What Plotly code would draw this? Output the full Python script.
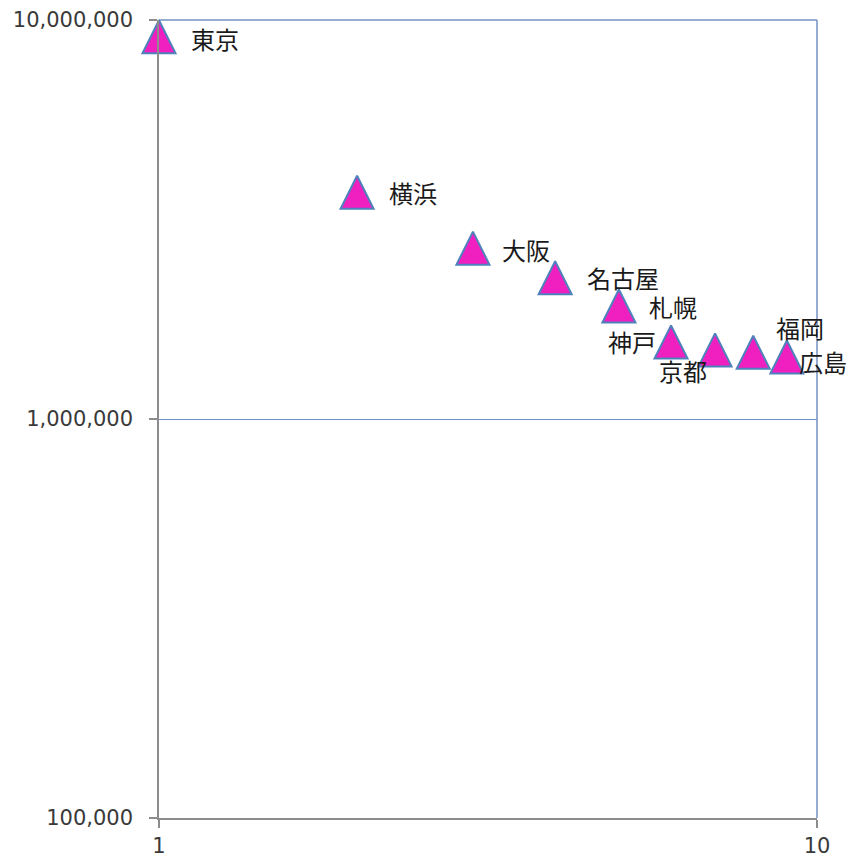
import numpy as np
import plotly.graph_objects as go

# City rank vs. population (log-log)
cities = ["東京", "横浜", "大阪", "名古屋", "札幌", "神戸", "京都", "福岡", "広島"]
ranks = [1, 2, 3, 4, 5, 6, 7, 8, 9]
population = [9080000, 3700000, 2680000, 2260000, 1920000, 1560000, 1490000, 1470000, 1430000]

y_tick_values = [100000, 1000000, 10000000]
y_tick_labels = ["100,000", "1,000,000", "10,000,000"]
x_tick_values = [1, 10]
x_tick_labels = ["1", "10"]

# label placement around each marker: (xanchor, xshift px, yshift px)
label_place = [
    ("left", 31, -2),
    ("left", 31, 0),
    ("left", 28, -1),
    ("left", 31, 0),
    ("left", 29, -1),
    ("right", -14, 0),
    ("center", -32, -21),
    ("center", 47, 25),
    ("left", 11, -4),
]

GRID = "#7391C4"
AXIS = "#8C8C8C"
MARKER = 33             # triangle width/height in px
PLOT_H = 865 - 20 - 47  # plot-area height in px
# arrow-up markers hang from their tip; lift them by half a marker
# so each triangle is centred on its value
lift = (MARKER / 2) / (PLOT_H / 2)

fig = go.Figure()

fig.add_trace(go.Scatter(
    x=ranks, y=population, text=cities, mode="markers",
    marker=dict(size=MARKER, opacity=0),
    hovertemplate="%{text}<br>%{x}位: %{y:,}<extra></extra>",
    showlegend=False,
))

fig.add_trace(go.Scatter(
    x=ranks, y=population, mode="markers", yaxis="y2",
    marker=dict(symbol="arrow-up", size=MARKER, color="#F01FBF",
                line=dict(color="#4F81BD", width=2)),
    cliponaxis=False, hoverinfo="skip", showlegend=False,
))

for name, r, p, (anchor, dx, dy) in zip(cities, ranks, population, label_place):
    fig.add_annotation(
        x=np.log10(r), y=np.log10(p), xref="x", yref="y",
        text=name, showarrow=False, xanchor=anchor, yanchor="middle",
        xshift=dx, yshift=dy, borderpad=0,
        font=dict(family="Noto Sans CJK JP", size=24, color="#1a1a1a"),
    )

# grid lines on the top and right edges of the plot area
fig.add_shape(type="line", xref="paper", yref="paper", x0=0, x1=1, y0=1, y1=1,
              line=dict(color=GRID, width=1.5), layer="below")
fig.add_shape(type="line", xref="paper", yref="paper", x0=1, x1=1, y0=0, y1=1,
              line=dict(color=GRID, width=1.5), layer="below")

axis_font = dict(family="DejaVu Sans", size=21, color="#3a3a3a")

fig.update_layout(
    width=851, height=865,
    margin=dict(l=159, r=34, t=20, b=47),
    paper_bgcolor="white", plot_bgcolor="white",
    xaxis=dict(
        type="log", range=[0, 1], automargin=False,
        tickvals=x_tick_values, ticktext=x_tick_labels,
        showgrid=True, gridcolor=GRID, gridwidth=1.2,
        showline=True, linecolor=AXIS, linewidth=1.5,
        ticks="outside", ticklen=8, tickcolor=AXIS, tickwidth=1.5,
        tickfont=axis_font, zeroline=False,
    ),
    yaxis=dict(
        type="log", range=[5, 7], automargin=False,
        tickvals=y_tick_values, ticktext=y_tick_labels,
        showgrid=True, gridcolor=GRID, gridwidth=1.2,
        showline=True, linecolor=AXIS, linewidth=1.5,
        ticks="outside", ticklen=8, tickcolor=AXIS, tickwidth=1.5,
        tickfont=axis_font, ticklabelstandoff=12, zeroline=False,
    ),
    yaxis2=dict(
        type="log", range=[5 - lift, 7 - lift],
        overlaying="y", visible=False,
    ),
)

fig.write_html("out.html")
